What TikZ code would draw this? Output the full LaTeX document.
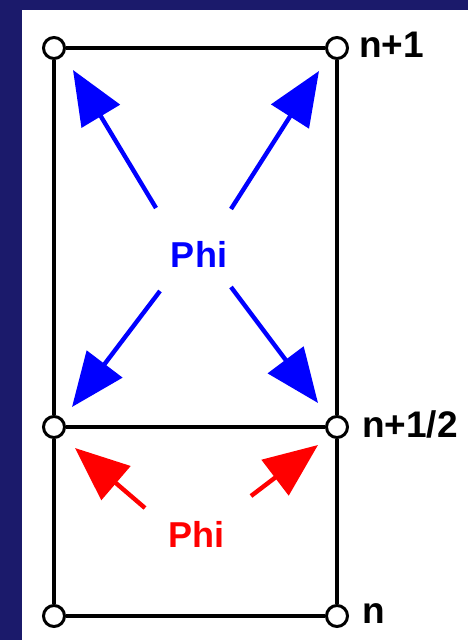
\documentclass[tikz,border=0pt]{standalone}
\usepackage{fontspec}
\setmainfont{Liberation Sans}
\usetikzlibrary{arrows.meta}
\definecolor{navy}{HTML}{1B1A6B}
\begin{document}
\begin{tikzpicture}[x=1pt,y=-1pt,
  vtx/.style={circle,draw=black,fill=white,line width=3pt,minimum size=21pt,inner sep=0pt},
  frame/.style={draw=black,line width=3.5pt},
  lbl/.style={font=\fontsize{37}{37}\selectfont\bfseries,anchor=base west,inner sep=0pt},
  philbl/.style={font=\fontsize{36}{36}\selectfont\bfseries,anchor=base,inner sep=0pt},
  farrow/.style={line width=4.4pt,-{Triangle[length=54pt,width=44pt]}}]
\useasboundingbox (0,0) rectangle (468,640);
\fill[navy] (0,0) rectangle (468,10);
\fill[navy] (0,0) rectangle (22,640);
% frame
\node[vtx] (tl) at (54,48) {};
\node[vtx] (tr) at (337,48) {};
\node[vtx] (ml) at (54,427) {};
\node[vtx] (mr) at (337,427) {};
\node[vtx] (bl) at (54,616) {};
\node[vtx] (br) at (337,616) {};
\draw[frame] (tl) -- (tr);
\draw[frame] (ml) -- (mr);
\draw[frame] (bl) -- (br);
\draw[frame] (tl) -- (ml);
\draw[frame] (ml) -- (bl);
\draw[frame] (tr) -- (mr);
\draw[frame] (mr) -- (br);
% labels
\node[lbl] (l1) at (359,57) {n+1};
\node[lbl] (l2) at (362,437) {n+1/2};
\node[lbl] (l3) at (362,623) {n};
\node[philbl,text=blue] (phib) at (199,267) {Phi};
\node[philbl,text=red] (phir) at (196,547) {Phi};
% blue arrow coordinates
\coordinate (b1s) at (156,208);
\coordinate (b1t) at (73,70);
\coordinate (b2s) at (231,209);
\coordinate (b2t) at (319,71);
\coordinate (b3s) at (160,291);
\coordinate (b3t) at (72,407);
\coordinate (b4s) at (231,287);
\coordinate (b4t) at (318,403);
\draw[farrow,blue] (b1s) -- (b1t);
\draw[farrow,blue] (b2s) -- (b2t);
\draw[farrow,blue] (b3s) -- (b3t);
\draw[farrow,blue] (b4s) -- (b4t);
% red arrows
\coordinate (r1s) at (145,508);
\coordinate (r1t) at (75,448);
\coordinate (r2s) at (251,496);
\coordinate (r2t) at (318,445);
\draw[farrow,red] (r1s) -- (r1t);
\draw[farrow,red] (r2s) -- (r2t);
\end{tikzpicture}
\end{document}
